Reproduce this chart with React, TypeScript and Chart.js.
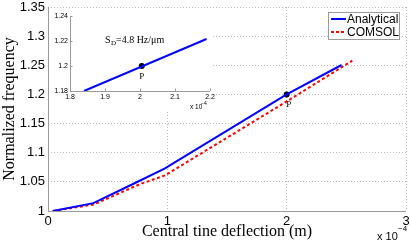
import React, { useEffect, useRef } from 'react';
import { Chart, registerables } from 'chart.js';

Chart.register(...registerables);

// ---- data (x in units of 1e-4 m) ----
const analyticalX = [0.04, 0.38, 0.73, 0.98, 2.0, 2.46];
const analyticalY = [1.0, 1.0135, 1.048, 1.073, 1.2, 1.2505];
const comsolX = [0.04, 0.38, 0.77, 0.98, 2.0, 2.55];
const comsolY = [1.0, 1.011, 1.046, 1.061, 1.188, 1.258];
const pointPX = [2.0];
const pointPY = [1.2];
const xTicks = [0, 1, 2, 3];
const yTicks = [1, 1.05, 1.1, 1.15, 1.2, 1.25, 1.3, 1.35];

const insetLineX = [1.84, 2.19];
const insetLineY = [1.18, 1.2216];
const insetPX = [2.005];
const insetPY = [1.2];
const insetXTicks = [1.8, 1.9, 2, 2.1, 2.2];
const insetYTicks = [1.18, 1.2, 1.22, 1.24];

const legendLabels = ['Analytical', 'COMSOL'];
const xTitle = 'Central tine deflection (m)';
const yTitle = 'Normalized frequency';

const SANS = '"Liberation Sans", Arial, sans-serif';
const SERIF = '"Liberation Serif", "Times New Roman", serif';
const BLUE = '#0000ff';
const RED = '#ff0000';
const AXIS = '#9a9a9a';
const GRID = 'rgba(0,0,0,0.28)';

const zip = (xs: number[], ys: number[]) => xs.map((x, i) => ({ x, y: ys[i] }));
const fmt = (v: number) => String(Number(v.toFixed(2)));

const mainPlugin = {
  id: 'mainDecor',
  afterDraw(chart: any) {
    const { ctx, chartArea: a } = chart;
    ctx.save();
    // axis lines (left, bottom)
    ctx.strokeStyle = AXIS;
    ctx.lineWidth = 1;
    ctx.setLineDash([]);
    ctx.beginPath();
    ctx.moveTo(a.left + 0.5, a.top);
    ctx.lineTo(a.left + 0.5, a.bottom + 0.5);
    ctx.lineTo(a.right, a.bottom + 0.5);
    ctx.stroke();

    // titles
    ctx.fillStyle = '#000';
    ctx.font = `16px ${SERIF}`;
    ctx.textAlign = 'center';
    ctx.textBaseline = 'middle';
    ctx.fillText(xTitle, (a.left + a.right) / 2, 232);
    ctx.save();
    ctx.translate(10, (a.top + a.bottom) / 2);
    ctx.rotate(-Math.PI / 2);
    ctx.fillText(yTitle, 0, 0);
    ctx.restore();

    // exponent label
    ctx.textAlign = 'left';
    ctx.font = `11px ${SANS}`;
    ctx.fillText('x 10', 377, 237);
    ctx.font = `8px ${SANS}`;
    ctx.fillText('\u22124', 398, 229);

    // P label
    const xs = chart.scales.x;
    const ys = chart.scales.y;
    ctx.font = `9px ${SERIF}`;
    ctx.textAlign = 'center';
    ctx.fillText('P', xs.getPixelForValue(pointPX[0]) + 2, ys.getPixelForValue(pointPY[0]) + 10);

    // legend
    const lx = 328, ly = 12, lw = 71, lh = 27;
    ctx.fillStyle = '#fff';
    ctx.fillRect(lx, ly, lw, lh);
    ctx.strokeStyle = AXIS;
    ctx.strokeRect(lx + 0.5, ly + 0.5, lw, lh);
    const rows = [
      { label: legendLabels[0], color: BLUE, dash: [] as number[], y: 19 },
      { label: legendLabels[1], color: RED, dash: [3, 2], y: 32 },
    ];
    rows.forEach((r) => {
      ctx.strokeStyle = r.color;
      ctx.lineWidth = 2;
      ctx.setLineDash(r.dash);
      ctx.beginPath();
      ctx.moveTo(331, r.y);
      ctx.lineTo(346, r.y);
      ctx.stroke();
      ctx.setLineDash([]);
      ctx.fillStyle = '#000';
      ctx.font = `12px ${SANS}`;
      ctx.textAlign = 'left';
      ctx.textBaseline = 'middle';
      ctx.fillText(r.label, 347, r.y + 0.5);
    });
    ctx.restore();
  },
};

const insetPlugin = {
  id: 'insetDecor',
  beforeDraw(chart: any) {
    const { ctx, chartArea: a, height } = chart;
    ctx.save();
    ctx.fillStyle = '#fff';
    ctx.fillRect(0, 0, a.right + 1, height);
    ctx.restore();
  },
  afterDraw(chart: any) {
    const { ctx, chartArea: a } = chart;
    const xs = chart.scales.x;
    const ys = chart.scales.y;
    ctx.save();
    ctx.strokeStyle = AXIS;
    ctx.lineWidth = 1;
    ctx.beginPath();
    ctx.moveTo(a.left + 0.5, a.top);
    ctx.lineTo(a.left + 0.5, a.bottom + 0.5);
    ctx.lineTo(a.right, a.bottom + 0.5);
    ctx.stroke();
    // inward ticks
    ctx.beginPath();
    insetYTicks.forEach((v) => {
      const y = Math.round(ys.getPixelForValue(v)) + 0.5;
      ctx.moveTo(a.left, y);
      ctx.lineTo(a.left + 2.5, y);
    });
    insetXTicks.forEach((v) => {
      const x = Math.round(xs.getPixelForValue(v)) + 0.5;
      ctx.moveTo(x, a.bottom);
      ctx.lineTo(x, a.bottom - 2.5);
    });
    ctx.stroke();

    ctx.fillStyle = '#000';
    ctx.textBaseline = 'middle';
    // S_D annotation
    ctx.textAlign = 'left';
    ctx.font = `10px ${SERIF}`;
    ctx.fillText('S', 56, 32);
    ctx.font = `7px ${SERIF}`;
    ctx.fillText('D', 62, 35.5);
    ctx.font = `10px ${SERIF}`;
    ctx.fillText('=4.8 Hz/\u03bcm', 67, 32);
    // P label
    ctx.textAlign = 'center';
    ctx.font = `9px ${SERIF}`;
    ctx.fillText('P', xs.getPixelForValue(insetPX[0]), ys.getPixelForValue(insetPY[0]) + 11);
    // exponent
    ctx.textAlign = 'left';
    ctx.font = `6.5px ${SANS}`;
    ctx.fillText('x 10', 141, 99);
    ctx.font = `5px ${SANS}`;
    ctx.fillText('\u22124', 152, 95.5);
    ctx.restore();
  },
};

export default function App() {
  const mainRef = useRef<HTMLCanvasElement>(null);
  const insetRef = useRef<HTMLCanvasElement>(null);

  useEffect(() => {
    document.body.style.margin = '0';
    const main = new Chart(mainRef.current as HTMLCanvasElement, {
      type: 'line',
      data: {
        datasets: [
          {
            label: legendLabels[0],
            data: zip(analyticalX, analyticalY),
            borderColor: BLUE,
            backgroundColor: BLUE,
            borderWidth: 2,
            pointRadius: 0,
            tension: 0,
          },
          {
            label: legendLabels[1],
            data: zip(comsolX, comsolY),
            borderColor: RED,
            backgroundColor: RED,
            borderWidth: 2,
            borderDash: [3, 2.5],
            pointRadius: 0,
            tension: 0,
          },
          {
            label: 'P',
            data: zip(pointPX, pointPY),
            showLine: false,
            pointRadius: 3,
            pointBackgroundColor: '#000',
            pointBorderColor: '#000',
            borderWidth: 0,
          },
        ],
      },
      options: {
        responsive: false,
        animation: false,
        devicePixelRatio: 1,
        layout: { padding: { top: 7, right: 4, left: 0, bottom: 0 } },
        plugins: { legend: { display: false }, tooltip: { enabled: false } },
        scales: {
          x: {
            type: 'linear',
            min: 0,
            max: 3,
            afterBuildTicks: (s: any) => {
              s.ticks = xTicks.map((v) => ({ value: v }));
            },
            afterFit: (s: any) => {
              s.height = 32;
              s.paddingLeft = 0;
              s.paddingRight = 0;
            },
            ticks: {
              callback: (v: any) => fmt(Number(v)),
              font: { family: SANS, size: 13 },
              color: '#000',
              padding: 3,
              maxRotation: 0,
              autoSkip: false,
            },
            grid: { color: GRID, drawTicks: false, lineWidth: 1 },
            border: { display: false, dash: [1, 2] },
          },
          y: {
            type: 'linear',
            min: 1,
            max: 1.35,
            afterBuildTicks: (s: any) => {
              s.ticks = yTicks.map((v) => ({ value: v }));
            },
            afterFit: (s: any) => {
              s.width = 48;
              s.paddingTop = 0;
              s.paddingBottom = 0;
            },
            ticks: {
              callback: (v: any) => fmt(Number(v)),
              font: { family: SANS, size: 13 },
              color: '#000',
              padding: 3,
              autoSkip: false,
            },
            grid: { color: GRID, drawTicks: false, lineWidth: 1 },
            border: { display: false, dash: [1, 2] },
          },
        },
      } as any,
      plugins: [mainPlugin],
    });

    const inset = new Chart(insetRef.current as HTMLCanvasElement, {
      type: 'line',
      data: {
        datasets: [
          {
            data: zip(insetLineX, insetLineY),
            borderColor: BLUE,
            borderWidth: 2,
            pointRadius: 0,
            tension: 0,
          },
          {
            data: zip(insetPX, insetPY),
            showLine: false,
            pointRadius: 3,
            pointBackgroundColor: '#000',
            pointBorderColor: '#000',
            borderWidth: 0,
          },
        ],
      },
      options: {
        responsive: false,
        animation: false,
        devicePixelRatio: 1,
        layout: { padding: { top: 8, right: 19, left: 0, bottom: 0 } },
        plugins: { legend: { display: false }, tooltip: { enabled: false } },
        scales: {
          x: {
            type: 'linear',
            min: 1.8,
            max: 2.2,
            afterBuildTicks: (s: any) => {
              s.ticks = insetXTicks.map((v) => ({ value: v }));
            },
            afterFit: (s: any) => {
              s.height = 21;
              s.paddingLeft = 0;
              s.paddingRight = 0;
            },
            ticks: {
              callback: (v: any) => fmt(Number(v)),
              font: { family: SANS, size: 7 },
              color: '#000',
              padding: 2,
              maxRotation: 0,
              autoSkip: false,
            },
            grid: { display: false, drawTicks: false },
            border: { display: false },
          },
          y: {
            type: 'linear',
            min: 1.18,
            max: 1.24,
            afterBuildTicks: (s: any) => {
              s.ticks = insetYTicks.map((v) => ({ value: v }));
            },
            afterFit: (s: any) => {
              s.width = 21;
              s.paddingTop = 0;
              s.paddingBottom = 0;
            },
            ticks: {
              callback: (v: any) => fmt(Number(v)),
              font: { family: SANS, size: 7 },
              color: '#000',
              padding: 2,
              autoSkip: false,
            },
            grid: { display: false, drawTicks: false },
            border: { display: false },
          },
        },
      } as any,
      plugins: [insetPlugin],
    });

    return () => {
      main.destroy();
      inset.destroy();
    };
  }, []);

  return (
    <div style={{ position: 'absolute', left: 0, top: 0, width: 410, height: 243, background: '#fff' }}>
      <canvas ref={mainRef} width={410} height={243} style={{ position: 'absolute', left: 0, top: 0, display: 'block' }} />
      <canvas ref={insetRef} width={180} height={104} style={{ position: 'absolute', left: 49, top: 8, display: 'block' }} />
    </div>
  );
}
